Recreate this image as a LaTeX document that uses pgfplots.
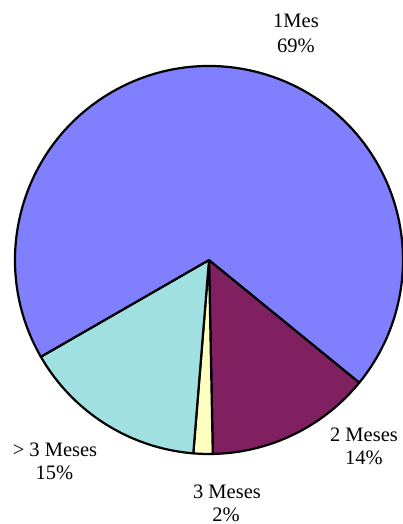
\documentclass[border=0pt]{standalone}
\usepackage{fontspec}
\setmainfont{Liberation Serif}
\usepackage{pgfplots}
\pgfplotsset{compat=1.18}
\usepackage{pgfplotstable}
\definecolor{cMes}{HTML}{8080FF}
\definecolor{cDos}{HTML}{802060}
\definecolor{cTres}{HTML}{FFFFC0}
\definecolor{cMas}{HTML}{A0E0E0}
% slice shares (percent), clockwise from the start angle
\pgfplotstableread{
pct
13.8
1.6
15.4
69.2
}\piedata
\pgfplotstablegetelem{0}{pct}\of\piedata\let\pA\pgfplotsretval
\pgfplotstablegetelem{1}{pct}\of\piedata\let\pB\pgfplotsretval
\pgfplotstablegetelem{2}{pct}\of\piedata\let\pC\pgfplotsretval
\pgfplotstablegetelem{3}{pct}\of\piedata\let\pD\pgfplotsretval
\pgfmathsetmacro\aZ{-39.2}
\pgfmathsetmacro\aA{\aZ-3.6*\pA}
\pgfmathsetmacro\aB{\aA-3.6*\pB}
\pgfmathsetmacro\aC{\aB-3.6*\pC}
\pgfmathsetmacro\aD{\aC-3.6*\pD}
\begin{document}
\begin{tikzpicture}
\begin{axis}[x=1bp,y=1bp,xmin=0,xmax=403,ymin=0,ymax=524,
  hide axis, clip=false, scale only axis, anchor=origin, at={(0,0)}]
\filldraw[fill=cDos,draw=black,line width=2.2bp,line join=round]
  (axis cs:209,264) -- ++(\aZ:194bp) arc[start angle=\aZ,end angle=\aA,radius=194bp] -- cycle;
\filldraw[fill=cTres,draw=black,line width=2.2bp,line join=round]
  (axis cs:209,264) -- ++(\aA:194bp) arc[start angle=\aA,end angle=\aB,radius=194bp] -- cycle;
\filldraw[fill=cMas,draw=black,line width=2.2bp,line join=round]
  (axis cs:209,264) -- ++(\aB:194bp) arc[start angle=\aB,end angle=\aC,radius=194bp] -- cycle;
\filldraw[fill=cMes,draw=black,line width=2.2bp,line join=round]
  (axis cs:209,264) -- ++(\aC:194bp) arc[start angle=\aC,end angle=\aD,radius=194bp] -- cycle;
\begin{scope}[every node/.style={anchor=base,inner sep=0pt,font=\fontsize{20.5bp}{25bp}\selectfont}]
\node at (axis cs:296,496) {1Mes};
\node at (axis cs:296,471) {69\%};
\node at (axis cs:364,82.3) {2 Meses};
\node at (axis cs:364,60) {14\%};
\node at (axis cs:227,26) {3 Meses};
\node at (axis cs:226,3) {2\%};
\node at (axis cs:55,67.3) {> 3 Meses};
\node at (axis cs:54.5,45) {15\%};
\end{scope}
\end{axis}
\pgfresetboundingbox
\path (0,0) rectangle (403bp,524bp);
\end{tikzpicture}
\end{document}
